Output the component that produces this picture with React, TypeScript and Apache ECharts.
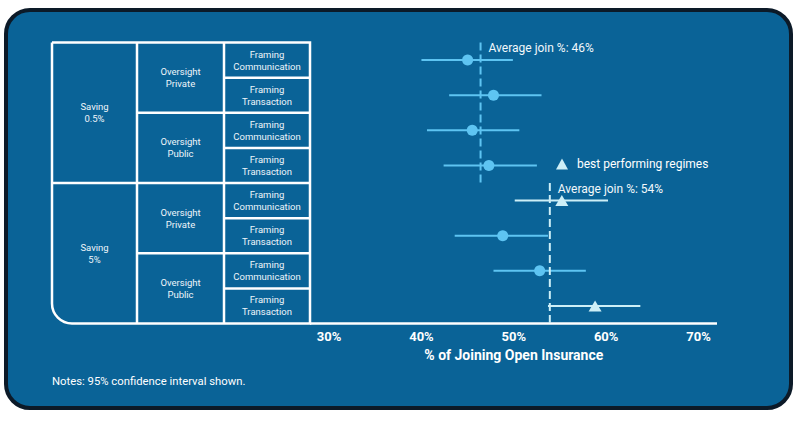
import React, { useEffect, useRef } from 'react'
import * as echarts from 'echarts'

// table labels (outer -> inner)
const savingLevels = ['Saving\n0.5%', 'Saving\n5%']
const oversightTypes = ['Oversight\nPrivate', 'Oversight\nPublic']
const framingTypes = ['Framing\nCommunication', 'Framing\nTransaction']

// % joining, one value per row (top to bottom)
const joinMean = [45.0, 47.8, 45.5, 47.3, 55.2, 48.8, 52.8, 58.8]
const ciLower = [40.0, 43.0, 40.6, 42.4, 50.1, 43.6, 47.8, 53.7]
const ciUpper = [49.9, 53.0, 50.6, 52.5, 60.2, 53.7, 57.8, 63.7]
const isBest = [false, false, false, false, true, false, false, true]

// average join per saving level: [value, first row, last row, label]
const averages: [number, number, number, string][] = [
  [46.4, 0, 4, 'Average join %: 46%'],
  [53.9, 4, 8, 'Average join %: 54%']
]

const tickLabels = [30, 40, 50, 60, 70]

const BLUE = '#5ec4f2'
const PALE = '#cdeff7'
const FONT = 'Roboto'

// layout
const GRID_L = 52
const GRID_R = 717
const GRID_T = 42.5
const GRID_B = 323.5
const COLS = [52, 137, 224, 310]

const App: React.FC = () => {
  const chartRef = useRef<HTMLDivElement>(null)

  useEffect(() => {
    if (!chartRef.current) return
    const chart = echarts.init(chartRef.current, undefined, { renderer: 'svg' })

    const nRows = joinMean.length
    const rowH = (GRID_B - GRID_T) / nRows
    const rowY = (r: number) => GRID_T + r * rowH
    const line = (x1: number, y1: number, x2: number, y2: number) => ({
      type: 'line',
      shape: { x1, y1, x2, y2 },
      style: { stroke: '#ffffff', lineWidth: 2.5 }
    })
    const cellText = (text: string, c: number, r0: number, r1: number) => ({
      type: 'text',
      x: (COLS[c] + COLS[c + 1]) / 2,
      y: (rowY(r0) + rowY(r1)) / 2,
      style: {
        text,
        fill: '#eef5fa',
        font: `9.5px ${FONT}`,
        lineHeight: 12,
        align: 'center',
        verticalAlign: 'middle'
      }
    })

    const tableEls: any[] = [
      {
        type: 'rect',
        shape: { x: COLS[0], y: GRID_T, width: COLS[3] - COLS[0], height: GRID_B - GRID_T, r: [0, 0, 0, 20] },
        style: { fill: 'none', stroke: '#ffffff', lineWidth: 2.5 }
      },
      line(COLS[1], GRID_T, COLS[1], GRID_B),
      line(COLS[2], GRID_T, COLS[2], GRID_B),
      line(COLS[3], GRID_B, GRID_R, GRID_B)
    ]
    const perSaving = nRows / savingLevels.length
    const perOversight = perSaving / oversightTypes.length
    savingLevels.forEach((s, si) => {
      const r0 = si * perSaving
      if (si > 0) tableEls.push(line(COLS[0], rowY(r0), COLS[3], rowY(r0)))
      tableEls.push(cellText(s, 0, r0, r0 + perSaving))
      oversightTypes.forEach((o, oi) => {
        const q0 = r0 + oi * perOversight
        if (oi > 0) tableEls.push(line(COLS[1], rowY(q0), COLS[3], rowY(q0)))
        tableEls.push(cellText(o, 1, q0, q0 + perOversight))
        framingTypes.forEach((f, fi) => {
          const p = q0 + fi
          if (fi > 0) tableEls.push(line(COLS[2], rowY(p), COLS[3], rowY(p)))
          tableEls.push(cellText(f, 2, p, p + 1))
        })
      })
    })

    const option = {
      animation: false,
      grid: { left: GRID_L, right: 800 - GRID_R, top: GRID_T, bottom: 421 - GRID_B },
      legend: {
        data: ['best performing regimes'],
        left: 551,
        top: 153,
        icon: 'triangle',
        itemWidth: 12,
        itemHeight: 11,
        textStyle: { color: '#ffffff', fontSize: 12, fontFamily: FONT, padding: [0, 0, 0, 4] }
      },
      xAxis: {
        type: 'value',
        min: 0,
        max: 72,
        interval: 10,
        axisLine: { show: false },
        axisTick: { show: false },
        splitLine: { show: false },
        axisLabel: {
          color: '#ffffff',
          fontWeight: 'bold',
          fontSize: 13,
          fontFamily: FONT,
          margin: 6,
          formatter: (v: number) => (tickLabels.includes(v) ? `${v}%` : '')
        }
      },
      yAxis: { type: 'value', min: 0, max: nRows, inverse: true, show: false },
      graphic: [
        ...tableEls,
        {
          type: 'text',
          x: (GRID_L + 30 * (GRID_R - GRID_L) / 72 + GRID_L + 70 * (GRID_R - GRID_L) / 72) / 2,
          y: 355,
          style: {
            text: '% of Joining Open Insurance',
            fill: '#ffffff',
            font: `bold 14px ${FONT}`,
            align: 'center',
            verticalAlign: 'middle'
          }
        },
        {
          type: 'text',
          x: 52,
          y: 381,
          style: {
            text: 'Notes: 95% confidence interval shown.',
            fill: '#ffffff',
            font: `11.3px ${FONT}`,
            align: 'left',
            verticalAlign: 'middle'
          }
        }
      ],
      series: [
        {
          name: 'ci',
          type: 'custom',
          encode: { x: [0, 1], y: 2 },
          data: joinMean.map((_, i) => [ciLower[i], ciUpper[i], i + 0.5, isBest[i] ? 1 : 0]),
          renderItem: (_p: any, api: any) => {
            const a = api.coord([api.value(0), api.value(2)])
            const b = api.coord([api.value(1), api.value(2)])
            return {
              type: 'line',
              shape: { x1: a[0], y1: a[1], x2: b[0], y2: b[1] },
              style: { stroke: api.value(3) ? PALE : BLUE, lineWidth: 2 }
            }
          },
          z: 2
        },
        {
          name: 'average',
          type: 'custom',
          encode: { x: 0, y: [1, 2] },
          data: averages.map((a) => [a[0], a[1], a[2]]),
          renderItem: (p: any, api: any) => {
            const top = api.coord([api.value(0), api.value(1)])
            const bot = api.coord([api.value(0), api.value(2)])
            const color = p.dataIndex === 0 ? BLUE : PALE
            return {
              type: 'group',
              children: [
                {
                  type: 'line',
                  shape: { x1: top[0], y1: top[1], x2: bot[0], y2: bot[1] },
                  style: { stroke: color, lineWidth: 2, lineDash: [8, 4] }
                },
                {
                  type: 'text',
                  x: top[0] + 8,
                  y: top[1] + 5.5,
                  style: {
                    text: averages[p.dataIndex][3],
                    fill: '#f2f8fb',
                    font: `12px ${FONT}`,
                    align: 'left',
                    verticalAlign: 'middle'
                  }
                }
              ]
            }
          },
          z: 3
        },
        {
          name: 'regime',
          type: 'scatter',
          symbol: 'circle',
          symbolSize: 11,
          itemStyle: { color: BLUE, opacity: 1 },
          data: joinMean.map((v, i) => (isBest[i] ? null : [v, i + 0.5])).filter((d) => d),
          z: 4
        },
        {
          name: 'best performing regimes',
          type: 'scatter',
          symbol: 'triangle',
          symbolSize: [13, 11],
          itemStyle: { color: PALE, opacity: 1 },
          data: joinMean.map((v, i) => (isBest[i] ? [v, i + 0.5] : null)).filter((d) => d),
          z: 4
        }
      ]
    }

    chart.setOption(option)
    return () => chart.dispose()
  }, [])

  return (
    <div style={{ position: 'absolute', left: 0, top: 0, width: 800, height: 421, background: '#ffffff' }}>
      <div
        style={{
          position: 'absolute',
          left: 3.5,
          top: 8,
          width: 789.5,
          height: 402,
          boxSizing: 'border-box',
          border: '4px solid #0c1a28',
          borderRadius: 26,
          background: '#0a6397'
        }}
      />
      <div ref={chartRef} style={{ position: 'absolute', left: 0, top: 0, width: 800, height: 421 }} />
    </div>
  )
}

export default App
